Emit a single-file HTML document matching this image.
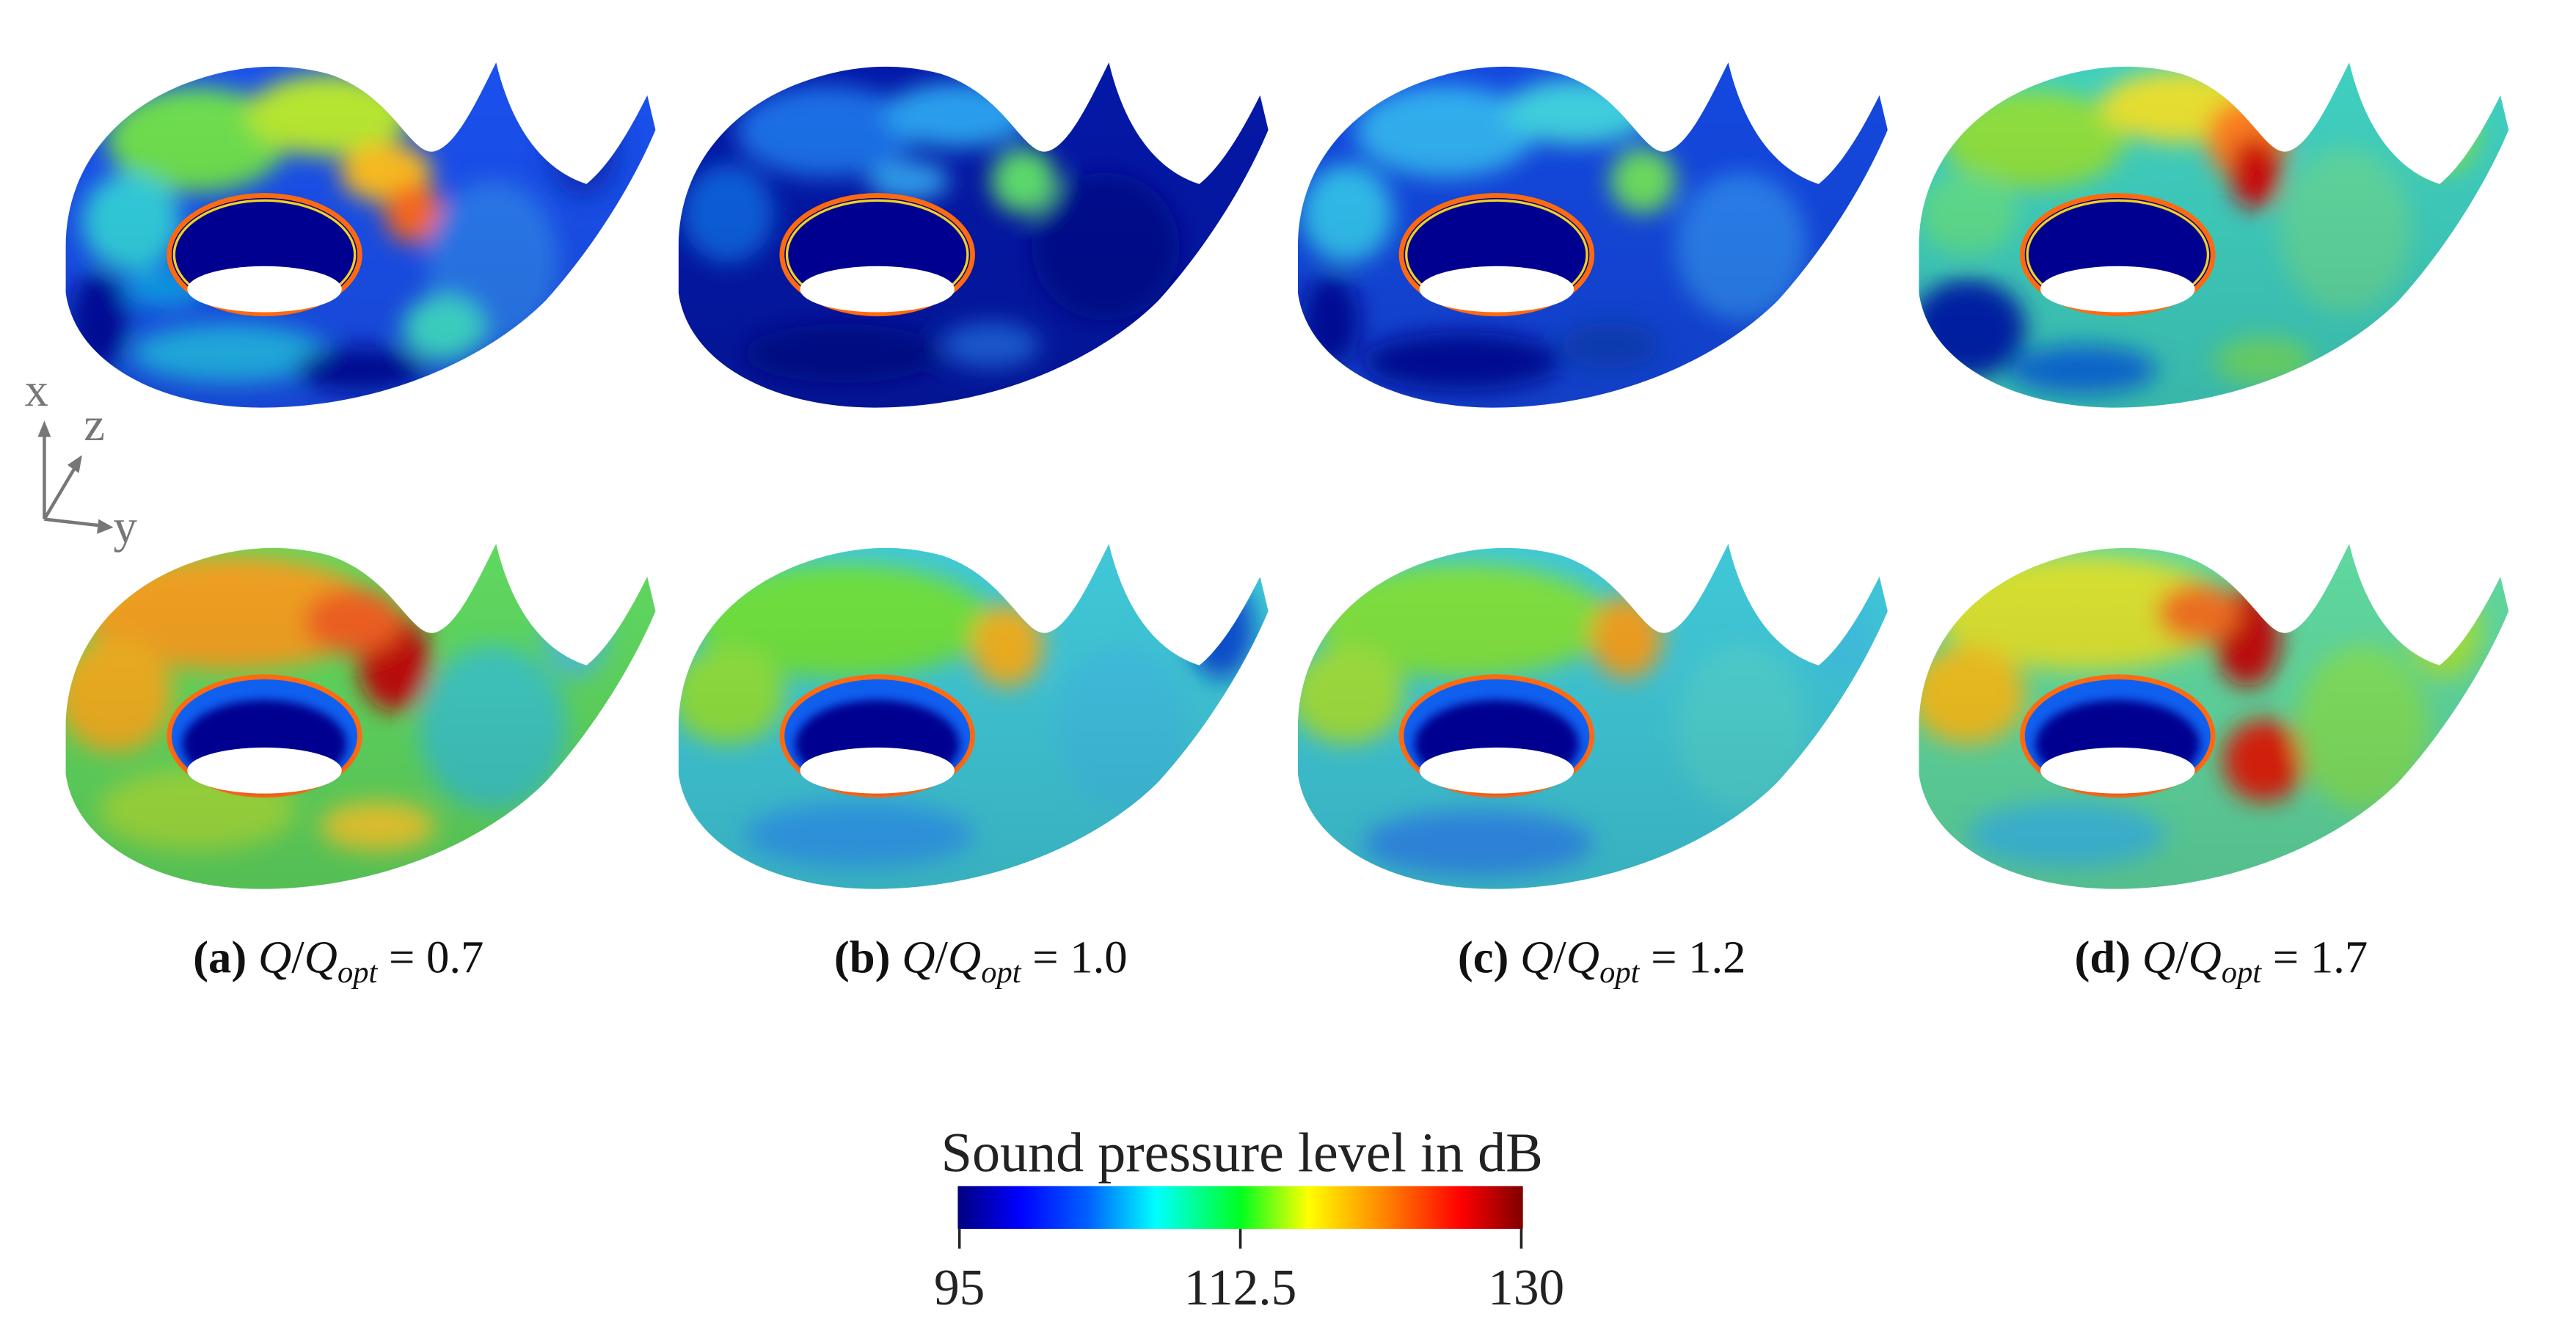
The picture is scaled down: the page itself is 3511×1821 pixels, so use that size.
<!DOCTYPE html>
<html><head><meta charset="utf-8"><style>
html,body{margin:0;padding:0;background:#fff}
svg{display:block}
text{font-family:"Liberation Serif",serif}
</style></head><body>
<svg width="3511" height="1821" viewBox="0 0 1568 813.2" xmlns="http://www.w3.org/2000/svg">
<defs>
<path id="vp" d="M302,38 C290,62 278,88 265,92 C250,96 240,58 200,45 C170,37 140,40 110,52 C62,72 40,110 40,150 L40,178 C46,222 100,250 166,248 C240,246 300,215 332,183 C362,150 386,110 399,79 L394,58 C385,76 372,100 357,112 C332,104 312,80 302,38 Z"/>
<clipPath id="vc"><use href="#vp"/></clipPath>
<filter id="bl" x="-50%" y="-50%" width="200%" height="200%"><feGaussianBlur stdDeviation="7"/></filter>
<filter id="bs" x="-50%" y="-50%" width="200%" height="200%"><feGaussianBlur stdDeviation="3"/></filter>
<linearGradient id="jet" x1="0" x2="1" y1="0" y2="0">
<stop offset="0" stop-color="#00007f"/><stop offset="0.11" stop-color="#0000ff"/><stop offset="0.23" stop-color="#0060ff"/><stop offset="0.35" stop-color="#00ffff"/><stop offset="0.5" stop-color="#00ff20"/><stop offset="0.62" stop-color="#ffff00"/><stop offset="0.76" stop-color="#ff8000"/><stop offset="0.89" stop-color="#ff0000"/><stop offset="1" stop-color="#7f0000"/>
</linearGradient>
<linearGradient id="wall" x1="0" x2="0" y1="0" y2="1"><stop offset="0" stop-color="#000" stop-opacity="0"/><stop offset="1" stop-color="#000" stop-opacity="0.12"/></linearGradient>
<g id="hole1">
<ellipse cx="161" cy="155" rx="58" ry="36" fill="#000090" stroke="#ff6a10" stroke-width="3"/>
<ellipse cx="161" cy="155" rx="55" ry="33" fill="none" stroke="#f0d020" stroke-width="1.5"/>
<ellipse cx="161" cy="176" rx="47" ry="14" fill="#fff"/>
</g>
<g id="hole2">
<ellipse cx="161" cy="155" rx="58" ry="36" fill="#1060f0" stroke="#ff6a10" stroke-width="3"/>
<ellipse cx="161" cy="160" rx="50" ry="27" fill="#000090" filter="url(#bs)"/>
<ellipse cx="161" cy="176" rx="47" ry="14" fill="#fff"/>
</g>
</defs>
<rect width="1568" height="813.2" fill="#fff"/>

<g transform="translate(0,0)"><g clip-path="url(#vc)">
<rect x="30" y="30" width="380" height="230" fill="#1a50ee"/>
<g filter="url(#bl)">
<ellipse cx="120" cy="85" rx="55" ry="32" fill="#70e050"/><ellipse cx="200" cy="70" rx="50" ry="25" fill="#b8e830"/>
<ellipse cx="235" cy="105" rx="28" ry="18" fill="#ffc020"/><ellipse cx="252" cy="130" rx="18" ry="18" fill="#ff6a20"/>
<ellipse cx="80" cy="135" rx="30" ry="30" fill="#30d0e0"/><ellipse cx="140" cy="215" rx="60" ry="18" fill="#20b8f0"/>
<ellipse cx="300" cy="160" rx="40" ry="50" fill="#2a7af0"/><ellipse cx="60" cy="195" rx="18" ry="30" fill="#0010a0"/>
<ellipse cx="220" cy="225" rx="40" ry="14" fill="#0010a0"/><ellipse cx="355" cy="90" rx="22" ry="30" fill="#0830c0"/>
<ellipse cx="270" cy="200" rx="25" ry="20" fill="#40e0d0"/><ellipse cx="100" cy="175" rx="25" ry="12" fill="#10a0f0"/>
</g></g><use href="#vp" fill="url(#wall)"/><use href="#hole1"/></g>

<g transform="translate(373,0)"><g clip-path="url(#vc)">
<rect x="30" y="30" width="380" height="230" fill="#0418a8"/>
<g filter="url(#bl)">
<ellipse cx="130" cy="80" rx="55" ry="28" fill="#1a70e8"/><ellipse cx="210" cy="70" rx="45" ry="20" fill="#2aa0f0"/>
<ellipse cx="250" cy="110" rx="20" ry="20" fill="#60e070"/><ellipse cx="70" cy="130" rx="28" ry="30" fill="#1060e0"/>
<ellipse cx="140" cy="215" rx="60" ry="18" fill="#000890"/><ellipse cx="300" cy="150" rx="45" ry="45" fill="#000890"/>
<ellipse cx="230" cy="210" rx="30" ry="14" fill="#1a60e0"/><ellipse cx="180" cy="110" rx="25" ry="12" fill="#30a0f0"/>
</g></g><use href="#vp" fill="url(#wall)"/><use href="#hole1"/></g>

<g transform="translate(750,0)"><g clip-path="url(#vc)">
<rect x="30" y="30" width="380" height="230" fill="#1448e0"/>
<g filter="url(#bl)">
<ellipse cx="130" cy="80" rx="55" ry="28" fill="#30b0f0"/><ellipse cx="210" cy="68" rx="45" ry="20" fill="#40d0e0"/>
<ellipse cx="250" cy="110" rx="20" ry="20" fill="#70e060"/><ellipse cx="70" cy="130" rx="28" ry="30" fill="#30c0f0"/>
<ellipse cx="140" cy="220" rx="60" ry="18" fill="#0010a0"/><ellipse cx="310" cy="150" rx="40" ry="45" fill="#2a80f0"/>
<ellipse cx="230" cy="210" rx="30" ry="14" fill="#0a40c0"/><ellipse cx="60" cy="195" rx="18" ry="28" fill="#0010a0"/>
</g></g><use href="#vp" fill="url(#wall)"/><use href="#hole1"/></g>

<g transform="translate(1128,0)"><g clip-path="url(#vc)">
<rect x="30" y="30" width="380" height="230" fill="#40d0c0"/>
<g filter="url(#bl)">
<ellipse cx="110" cy="85" rx="55" ry="30" fill="#90e040"/><ellipse cx="200" cy="65" rx="50" ry="22" fill="#e8e030"/>
<ellipse cx="240" cy="85" rx="25" ry="25" fill="#ff8020"/><ellipse cx="245" cy="105" rx="16" ry="22" fill="#d01010"/>
<ellipse cx="70" cy="130" rx="30" ry="25" fill="#60e090"/><ellipse cx="70" cy="200" rx="35" ry="30" fill="#0020b0"/>
<ellipse cx="140" cy="225" rx="45" ry="15" fill="#1070e0"/><ellipse cx="300" cy="140" rx="40" ry="50" fill="#60d8a0"/>
<ellipse cx="250" cy="220" rx="30" ry="15" fill="#70e070"/><ellipse cx="360" cy="80" rx="20" ry="25" fill="#80e050"/>
</g></g><use href="#vp" fill="url(#wall)"/><use href="#hole1"/></g>

<g transform="translate(0,293)"><g clip-path="url(#vc)">
<rect x="30" y="30" width="380" height="230" fill="#60d860"/>
<g filter="url(#bl)">
<ellipse cx="140" cy="80" rx="90" ry="35" fill="#f0a020"/><ellipse cx="70" cy="130" rx="35" ry="35" fill="#f0b020"/>
<ellipse cx="240" cy="110" rx="22" ry="30" fill="#c01010"/><ellipse cx="215" cy="85" rx="30" ry="20" fill="#f06020"/>
<ellipse cx="120" cy="200" rx="60" ry="25" fill="#a0e040"/><ellipse cx="300" cy="150" rx="45" ry="50" fill="#40c8c0"/>
<ellipse cx="350" cy="90" rx="20" ry="30" fill="#50c0d0"/><ellipse cx="230" cy="210" rx="35" ry="15" fill="#f0d030"/>
</g></g><use href="#vp" fill="url(#wall)"/><use href="#hole2"/></g>

<g transform="translate(373,293)"><g clip-path="url(#vc)">
<rect x="30" y="30" width="380" height="230" fill="#40c8d8"/>
<g filter="url(#bl)">
<ellipse cx="140" cy="85" rx="90" ry="35" fill="#70e040"/><ellipse cx="70" cy="130" rx="35" ry="30" fill="#90e040"/>
<ellipse cx="240" cy="100" rx="22" ry="25" fill="#f0b020"/><ellipse cx="150" cy="215" rx="70" ry="20" fill="#30a0f0"/>
<ellipse cx="310" cy="150" rx="40" ry="50" fill="#40c0e0"/><ellipse cx="370" cy="90" rx="20" ry="30" fill="#1050d0"/>
</g></g><use href="#vp" fill="url(#wall)"/><use href="#hole2"/></g>

<g transform="translate(750,293)"><g clip-path="url(#vc)">
<rect x="30" y="30" width="380" height="230" fill="#40c8d8"/>
<g filter="url(#bl)">
<ellipse cx="140" cy="85" rx="90" ry="35" fill="#80e040"/><ellipse cx="70" cy="130" rx="35" ry="30" fill="#a0e040"/>
<ellipse cx="240" cy="95" rx="22" ry="25" fill="#f0a020"/><ellipse cx="150" cy="220" rx="70" ry="20" fill="#3090f0"/>
<ellipse cx="310" cy="150" rx="40" ry="50" fill="#50d0d0"/><ellipse cx="370" cy="90" rx="20" ry="30" fill="#40c0e0"/>
</g></g><use href="#vp" fill="url(#wall)"/><use href="#hole2"/></g>

<g transform="translate(1128,293)"><g clip-path="url(#vc)">
<rect x="30" y="30" width="380" height="230" fill="#60d8a0"/>
<g filter="url(#bl)">
<ellipse cx="140" cy="80" rx="90" ry="35" fill="#d8e030"/><ellipse cx="70" cy="130" rx="35" ry="30" fill="#f0c020"/>
<ellipse cx="240" cy="95" rx="20" ry="30" fill="#c00808"/><ellipse cx="210" cy="80" rx="25" ry="18" fill="#f07020"/>
<ellipse cx="250" cy="170" rx="25" ry="25" fill="#e02010"/><ellipse cx="130" cy="215" rx="60" ry="20" fill="#40c0e0"/>
<ellipse cx="310" cy="150" rx="40" ry="50" fill="#80e060"/><ellipse cx="360" cy="90" rx="22" ry="30" fill="#a0e040"/>
</g></g><use href="#vp" fill="url(#wall)"/><use href="#hole2"/></g>

<g fill="#777" stroke="#777" font-size="29">
<text x="15" y="247" stroke="none">x</text>
<text x="51" y="268" stroke="none">z</text>
<text x="69" y="330" stroke="none">y</text>
<line x1="27" y1="316" x2="27" y2="262" stroke-width="2"/><path d="M27,256 L23,266 L31,266 Z" stroke="none"/>
<line x1="27" y1="316" x2="46" y2="284" stroke-width="2"/><path d="M50,277 L41,283 L48,288 Z" stroke="none"/>
<line x1="27" y1="316" x2="62" y2="320" stroke-width="2"/><path d="M69,321 L60,316 L59,325 Z" stroke="none"/>
</g>

<g font-size="28" fill="#111" text-anchor="middle">
<text x="206" y="592"><tspan font-weight="bold">(a)</tspan> <tspan font-style="italic">Q</tspan>/<tspan font-style="italic">Q</tspan><tspan font-style="italic" font-size="19" dy="6">opt</tspan><tspan dy="-6"> = 0.7</tspan></text>
<text x="597" y="592"><tspan font-weight="bold">(b)</tspan> <tspan font-style="italic">Q</tspan>/<tspan font-style="italic">Q</tspan><tspan font-style="italic" font-size="19" dy="6">opt</tspan><tspan dy="-6"> = 1.0</tspan></text>
<text x="975" y="592"><tspan font-weight="bold">(c)</tspan> <tspan font-style="italic">Q</tspan>/<tspan font-style="italic">Q</tspan><tspan font-style="italic" font-size="19" dy="6">opt</tspan><tspan dy="-6"> = 1.2</tspan></text>
<text x="1352" y="592"><tspan font-weight="bold">(d)</tspan> <tspan font-style="italic">Q</tspan>/<tspan font-style="italic">Q</tspan><tspan font-style="italic" font-size="19" dy="6">opt</tspan><tspan dy="-6"> = 1.7</tspan></text>
</g>

<text x="756" y="713" font-size="34" text-anchor="middle" fill="#222">Sound pressure level in dB</text>
<rect x="583" y="722" width="344" height="26" fill="url(#jet)"/>
<g stroke="#222" stroke-width="1.6"><line x1="584" y1="748" x2="584" y2="760"/><line x1="755" y1="748" x2="755" y2="760"/><line x1="926" y1="748" x2="926" y2="760"/></g>
<g font-size="31" fill="#222" text-anchor="middle"><text x="584" y="794">95</text><text x="755" y="794">112.5</text><text x="929" y="794">130</text></g>
</svg>
</body></html>
